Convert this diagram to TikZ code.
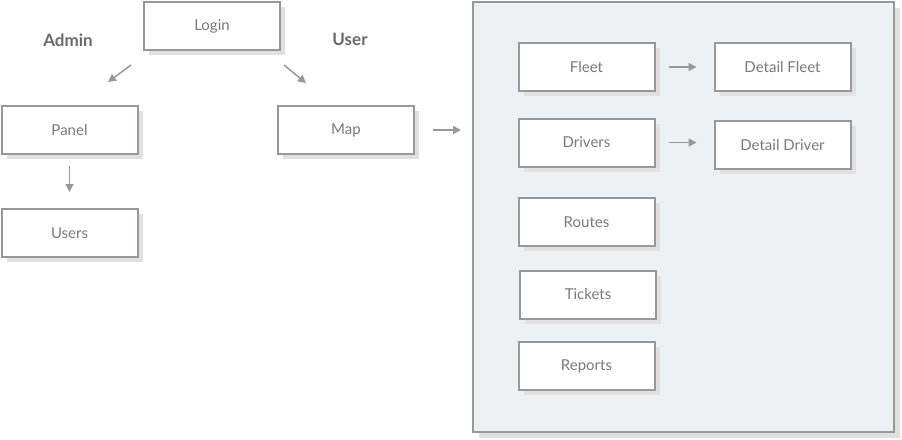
\documentclass[tikz,border=0pt]{standalone}
\usepackage{fontspec}
\setmainfont{Lato}
\usetikzlibrary{shadows,arrows.meta}
\definecolor{boxline}{HTML}{989898}
\definecolor{boxtext}{HTML}{7A7A7A}
\definecolor{roletext}{HTML}{6A6A6A}
\definecolor{shade}{HTML}{E2E0E0}
\definecolor{pane}{HTML}{EEF1F4}
\begin{document}
\begin{tikzpicture}[x=1pt,y=-1pt,
    screen/.style={draw=boxline,line width=2pt,fill=white,minimum width=136pt,minimum height=48pt,inner sep=0pt,
        text=boxtext,font=\fontsize{15}{17}\selectfont,
        drop shadow={shadow xshift=5pt,shadow yshift=-5pt,fill=shade,opacity=1}},
    pane/.style={draw=boxline,line width=2pt,fill=pane,minimum width=421pt,minimum height=430pt,inner sep=0pt,
        drop shadow={shadow xshift=6pt,shadow yshift=-6pt,fill=shade,opacity=1}},
    role/.style={text=roletext,font=\fontsize{17}{19}\selectfont\bfseries},
    flow/.style={draw=boxline,line width=1.5pt,-{Triangle[length=8pt,width=8pt]}}]
            \useasboundingbox (0,0) rectangle (902,439);
            \node[pane] (screens) at (683.5,217) {};
            \node[screen] (login) at (212,26) {Login};
            \node[role] (admin) at (68,40) {Admin};
            \node[role] (user) at (350,39) {User};
            \node[screen] (panel) at (69.5,130) {Panel};
            \node[screen] (users) at (69.5,233) {Users};
            \node[screen] (map) at (346,130) {Map};
            \node[screen] (fleet) at (586.5,67) {Fleet};
            \node[screen] (detailfleet) at (782.5,67) {Detail Fleet};
            \node[screen] (drivers) at (586.5,142.5) {Drivers};
            \node[screen] (detaildriver) at (782.5,145) {Detail Driver};
            \foreach \name/\x/\y/\label in {routes/586.5/222/Routes,tickets/588/294.5/Tickets,reports/586.5/366/Reports}
            {
                    \node[screen] (\name) at (\x,\y) {\label};
            }
            % free ends of the role arrows
            \coordinate (adminfrom) at (131,65);
            \coordinate (adminto) at (108,82);
            \coordinate (userfrom) at (284,65);
            \coordinate (userto) at (306,83);
            \draw[flow] (adminfrom) -- (adminto);
            \draw[flow] (userfrom) -- (userto);
            \draw[flow,shorten <=11pt,shorten >=16pt] (panel) -- (users);
            \draw[flow,shorten <=18pt,shorten >=11pt] (map.east) -- (map.east -| screens.west);
            \draw[flow,shorten <=13.5pt,shorten >=17pt] (fleet.east) -- (detailfleet.west);
            \draw[flow,shorten <=13.5pt,shorten >=17pt] (drivers.east) -- (drivers.east -| detaildriver.west);
        \end{tikzpicture}
\end{document}
